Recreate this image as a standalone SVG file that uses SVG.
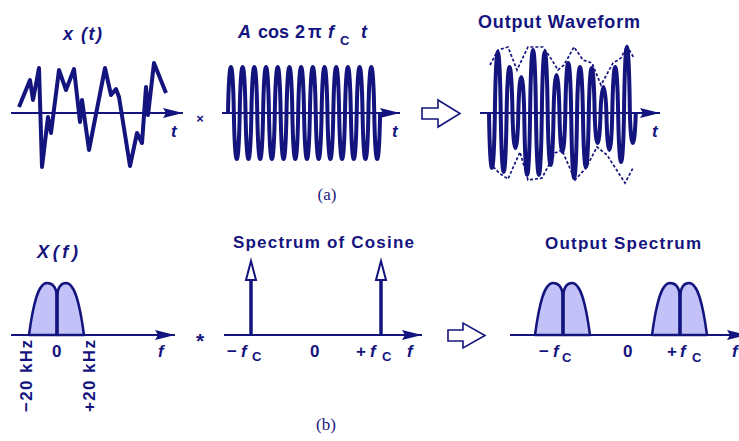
<svg xmlns="http://www.w3.org/2000/svg" width="739" height="441" viewBox="0 0 739 441">
<style>
.ax{stroke:#14147e;stroke-width:2;fill:none;marker-end:url(#ah)}
.wave{stroke:#14147e;stroke-width:4;fill:none;stroke-linejoin:round}
.env{stroke:#14147e;stroke-width:1.7;fill:none;stroke-dasharray:3 2}
.lobe{fill:#c2c2f9;stroke:#14147e;stroke-width:2.5;stroke-linejoin:round}
.ctr{stroke:#14147e;stroke-width:3.5}
.imp{stroke:#14147e;stroke-width:3.5}
.tip{fill:#fff;stroke:#14147e;stroke-width:2;stroke-linejoin:miter}
.blk{fill:#fff;stroke:#14147e;stroke-width:1.6;stroke-linejoin:miter}
text{font-family:"Liberation Sans",Arial,sans-serif;font-weight:bold;fill:#14147e;font-size:18px}
.i{font-style:italic}
.lb{font-size:17px}
.sub{font-size:13px}
.cap{font-family:"Liberation Serif","Times New Roman",serif;font-weight:normal;font-size:17px;fill:#1a1a80}
</style>
<defs>
<marker id="ah" markerUnits="userSpaceOnUse" markerWidth="20" markerHeight="10" refX="20" refY="5" orient="auto" viewBox="0 0 20 10">
<path d="M0,0 L20,5 L0,10 L3,5 z" fill="#14147e"/>
</marker>
<g id="lobes">
<path class="lobe" d="M-28,0 C-24,-30 -19,-52 -10,-52 C-4,-52 -1,-47 0,-40 L0,0 Z"/>
<path class="lobe" d="M27,0 C23,-30 18,-52 9,-52 C3,-52 1,-47 0,-40 L0,0 Z"/>
<line class="ctr" x1="0" y1="-43" x2="0" y2="0"/>
</g>
</defs>
<rect width="739" height="441" fill="#fff"/>

<g id="xt">
<text class="i" x="63" y="40" textLength="39" lengthAdjust="spacing">x (t)</text>
<line class="ax" x1="11" y1="113" x2="183" y2="113"/>
<polyline class="wave" stroke-width="3.3" points="19,107 30,80 33,100 39,68 42,167 48,117 51,133 59,70 66,90 74,69 80,122 82,100 89,150 105,68 111,95 116,89 119,97 130,166 137,133 142,143 146,87 148,115 154,63 166,93"/>
<text class="i lb" x="171" y="137">t</text>
</g>

<g id="carrier">
<text><tspan class="i" x="238" y="38">A</tspan><tspan x="258" y="38">cos</tspan><tspan x="295" y="38">2</tspan><tspan x="308" y="38">π</tspan><tspan class="i" x="328" y="38">f</tspan><tspan class="sub" x="340" y="45">C</tspan><tspan class="i" x="361" y="38">t</tspan></text>
<line class="ax" x1="222" y1="113" x2="400" y2="113"/>
<path class="wave" d="M228,113 C229.05,51.7 232.8,51.7 233.85,113 C234.9,174.3 238.65,174.3 239.7,113 C240.75,51.7 244.5,51.7 245.55,113 C246.6,174.3 250.35,174.3 251.4,113 C252.45,51.7 256.2,51.7 257.25,113 C258.3,174.3 262.05,174.3 263.1,113 C264.15,51.7 267.9,51.7 268.95,113 C270,174.3 273.75,174.3 274.8,113 C275.85,51.7 279.6,51.7 280.65,113 C281.7,174.3 285.45,174.3 286.5,113 C287.55,51.7 291.3,51.7 292.35,113 C293.4,174.3 297.15,174.3 298.2,113 C299.25,51.7 303,51.7 304.05,113 C305.1,174.3 308.85,174.3 309.9,113 C310.95,51.7 314.7,51.7 315.75,113 C316.8,174.3 320.55,174.3 321.6,113 C322.65,51.7 326.4,51.7 327.45,113 C328.5,174.3 332.25,174.3 333.3,113 C334.35,51.7 338.1,51.7 339.15,113 C340.2,174.3 343.95,174.3 345,113 C346.05,51.7 349.8,51.7 350.85,113 C351.9,174.3 355.65,174.3 356.7,113 C357.75,51.7 361.5,51.7 362.55,113 C363.6,174.3 367.35,174.3 368.4,113 C369.45,51.7 373.2,51.7 374.25,113 C375.3,174.3 379.05,174.3 380.1,113"/>
<text class="i lb" x="392" y="137">t</text>
</g>

<g id="output-wave">
<text x="478" y="28" textLength="162" lengthAdjust="spacing">Output Waveform</text>
<line class="ax" x1="480" y1="113" x2="660" y2="113"/>
<path class="wave" d="M489,113 C490.06,186.3 493.81,186.3 494.87,113 C495.93,31.7 499.68,31.7 500.74,113 C501.8,191.7 505.55,191.7 506.61,113 C507.67,51.7 511.42,51.7 512.48,113 C513.54,159.7 517.29,159.7 518.35,113 C519.41,65 523.16,65 524.22,113 C525.28,195.7 529.03,195.7 530.09,113 C531.15,29 534.9,29 535.96,113 C537.02,195.7 540.77,195.7 541.83,113 C542.89,31.7 546.64,31.7 547.7,113 C548.76,182.3 552.51,182.3 553.57,113 C554.63,62.3 558.38,62.3 559.44,113 C560.5,165 564.25,165 565.31,113 C566.37,46.3 570.12,46.3 571.18,113 C572.24,199.7 575.99,199.7 577.05,113 C578.11,51.7 581.86,51.7 582.92,113 C583.98,185 587.73,185 588.79,113 C589.85,53 593.6,53 594.66,113 C595.72,153 599.47,153 600.53,113 C601.59,78.3 605.34,78.3 606.4,113 C607.46,162.3 611.21,162.3 612.27,113 C613.33,51.7 617.08,51.7 618.14,113 C619.2,178.3 622.95,178.3 624.01,113 C625.07,25 628.82,25 629.88,113 C630.94,153 634.69,153 635.75,113"/>
<polyline class="env" points="490,65 498,50 508,47 517,70 528,47 543,47 552,60 558,70 564,65 574,47 583,60 592,63 601,85 613,63 621,58 627,46 634,58"/>
<polyline class="env" points="490,163 499,173 508,179 520,152 528,180 542,178 555,153 562,150 575,180 586,168 597,147 607,155 625,183 633,168"/>
<text class="i lb" x="652" y="137">t</text>
</g>

<g id="Xf">
<text class="i" x="37" y="258" textLength="41" lengthAdjust="spacing">X(f)</text>
<use href="#lobes" x="57" y="335"/>
<line class="ax" x1="11" y1="335" x2="175" y2="335"/>
<text class="lb" x="52" y="357">0</text>
<text class="i lb" x="158" y="357">f</text>
<text class="lb" transform="translate(32,412) rotate(-90)" textLength="72" lengthAdjust="spacing">−20 kHz</text>
<text class="lb" transform="translate(95,412) rotate(-90)" textLength="72" lengthAdjust="spacing">+20 kHz</text>
</g>

<g id="cos-spec">
<text class="lb" x="233" y="248" textLength="181" lengthAdjust="spacing">Spectrum of Cosine</text>
<line class="ax" x1="224" y1="335" x2="422" y2="335"/>
<line class="imp" x1="251" y1="335" x2="251" y2="279"/>
<polygon class="tip" points="251,261 256,280 246,280"/>
<line class="imp" x1="381" y1="335" x2="381" y2="279"/>
<polygon class="tip" points="381,261 386,280 376,280"/>
<text class="lb"><tspan x="227" y="357">−</tspan><tspan class="i" x="241" y="357">f</tspan><tspan class="sub" x="252" y="361">C</tspan></text>
<text class="lb" x="310" y="357">0</text>
<text class="lb"><tspan x="356" y="357">+</tspan><tspan class="i" x="370" y="357">f</tspan><tspan class="sub" x="382" y="361">C</tspan></text>
<text class="i lb" x="407" y="357">f</text>
</g>

<g id="out-spec">
<text class="lb" x="545" y="249" textLength="156" lengthAdjust="spacing">Output Spectrum</text>
<use href="#lobes" x="563" y="335"/>
<use href="#lobes" x="680" y="335"/>
<line class="ax" x1="510" y1="335" x2="747" y2="335"/>
<text class="lb"><tspan x="539" y="357">−</tspan><tspan class="i" x="553" y="357">f</tspan><tspan class="sub" x="562" y="362">C</tspan></text>
<text class="lb" x="623" y="357">0</text>
<text class="lb"><tspan x="667" y="357">+</tspan><tspan class="i" x="680" y="357">f</tspan><tspan class="sub" x="692" y="362">C</tspan></text>
<text class="i lb" x="732" y="357">f</text>
</g>

<g id="connectors">
<text x="200" y="123" text-anchor="middle" style="font-size:13px">×</text>
<polygon class="blk" points="422,108 438,108 438,100 460,113.5 438,127 438,119 422,119"/>
<text x="200" y="348" text-anchor="middle" style="font-size:21px">*</text>
<polygon class="blk" points="448,330 463,330 463,323 485,335.5 463,348 463,341 448,341"/>
</g>

<text class="cap" x="327" y="200" text-anchor="middle">(a)</text>
<text class="cap" x="326" y="430" text-anchor="middle">(b)</text>
</svg>
